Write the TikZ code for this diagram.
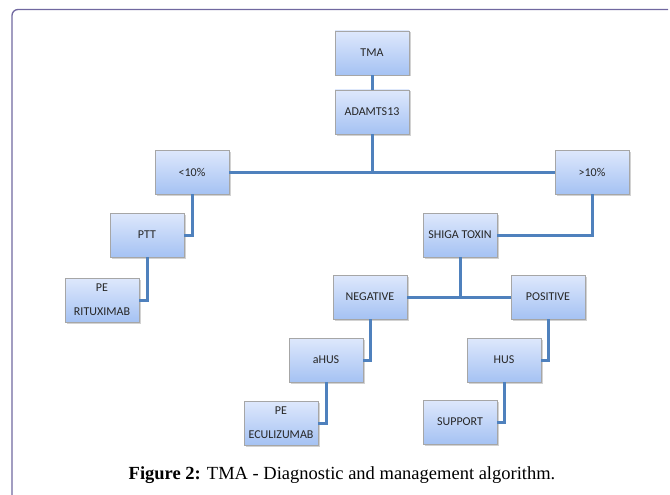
\documentclass[tikz,border=0pt]{standalone}
\usepackage{fontspec}
\setmainfont{Liberation Serif}
\newfontfamily\boxfont{Carlito}
\usetikzlibrary{shadows}
\definecolor{linkblue}{RGB}{79,129,189}
\definecolor{boxtop}{RGB}{222,232,252}
\definecolor{boxbottom}{RGB}{165,194,243}
\definecolor{frameline}{RGB}{112,104,160}
\tikzset{
    algobox/.style={draw=gray!70, top color=boxtop, bottom color=boxbottom,
        minimum width=74pt, minimum height=44pt, inner sep=1pt,
        align=center, font=\boxfont\fontsize{12}{24}\selectfont, text=black!85,
        drop shadow={shadow xshift=1.5pt, shadow yshift=-1.5pt, fill=black!35}},
    link/.style={draw=linkblue, line width=3pt},
}

\begin{document}
\begin{tikzpicture}[x=1pt, y=-1pt]
    \useasboundingbox (0,0) rectangle (670,495);
    % frame
    \draw [frameline, line width=1.3pt, rounded corners=6pt] (668,9.5) -- (12,9.5) -- (12,495);

    % boxes
    \node [algobox] (tma) at (372,53) {TMA};
    \node [algobox] (adamts) at (372,112) {ADAMTS13};
    \node [algobox] (low) at (192,172) {<10\%};
    \node [algobox] (high) at (592,172) {>10\%};
    \node [algobox] (ptt) at (147,235) {PTT};
    \node [algobox] (rituximab) at (102,300) {PE\\RITUXIMAB};
    \node [algobox] (shiga) at (460,235) {SHIGA TOXIN};
    \node [algobox] (negative) at (370,297) {NEGATIVE};
    \node [algobox] (positive) at (548,297) {POSITIVE};
    \node [algobox] (ahus) at (326,360) {aHUS};
    \node [algobox] (eculizumab) at (281,423) {PE\\ECULIZUMAB};
    \node [algobox] (hus) at (504,360) {HUS};
    \node [algobox] (support) at (460,422) {SUPPORT};

    % connectors
    \draw [link] (tma) -- (adamts);
    \draw [link] (low) -- (high);
    \draw [link] (adamts.south) -- (adamts.south |- low.east);
    \draw [link] (low.south) |- (ptt.east);
    \draw [link] (ptt.south) |- (rituximab.east);
    \draw [link] (high.south) |- (shiga.east);
    \draw [link] (negative) -- (positive);
    \draw [link] (shiga.south) -- (shiga.south |- negative.east);
    \draw [link] (negative.south) |- (ahus.east);
    \draw [link] (ahus.south) |- (eculizumab.east);
    \draw [link] (positive.south) |- (hus.east);
    \draw [link] (hus.south) |- (support.east);

    % caption
    \node [anchor=base, font=\fontsize{18.5}{22}\selectfont] (caption) at (342,479)
        {\textbf{Figure 2:} TMA - Diagnostic and management algorithm.};
\end{tikzpicture}
\end{document}
